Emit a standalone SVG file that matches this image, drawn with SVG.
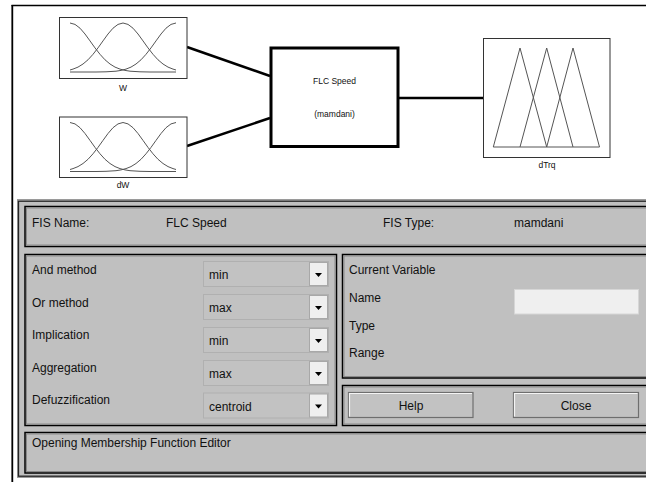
<svg xmlns="http://www.w3.org/2000/svg" xmlns:xlink="http://www.w3.org/1999/xlink" width="646" height="482" viewBox="0 0 646 482">
<style>
  text { font-family: "Liberation Sans", Arial, sans-serif; fill: #111; }
  .ui { font-size: 12px; }
  .small { font-size: 8.5px; }
  .mf { fill: none; stroke: #555; stroke-width: 1; }
  .box { fill: #fff; stroke: #333; stroke-width: 1; }
  .frame { fill: #c0c0c0; stroke: #000; stroke-width: 1.5; }
  .frame-in { fill: none; stroke: #8a8a8a; stroke-width: 1; }
  .dd { fill: #c2c2c2; stroke: #b0b0b0; stroke-width: 1; }
  .ddbtn { fill: #efefef; stroke: #a8a8a8; stroke-width: 1; }
  .btn { fill: #c2c2c2; stroke: #6e6e6e; stroke-width: 1.2; }
  .conn { stroke: #000; stroke-width: 2.5; fill: none; }
</style>
<defs>
  <g id="gauss3">
    <polyline class="mf" points="70,23 75,24.4 80,28.2 85,34 90,40.9 95,47.9 100,54.3 105,59.8 110,64 115,67.1 120,69.1 125,70.4 130,71.2 140,71.8 150,72 176,72"/>
    <polyline class="mf" points="70,70 73,69.1 78,67.1 83,64 88,59.8 93,54.3 98,47.9 103,40.9 108,34 113,28.2 118,24.4 123,23 128,24.4 133,28.2 138,34 143,40.9 148,47.9 153,54.3 158,59.8 163,64 168,67.1 173,69.1 176,70"/>
    <polyline class="mf" points="176,23 171,24.4 166,28.2 161,34 156,40.9 151,47.9 146,54.3 141,59.8 136,64 131,67.1 126,69.1 121,70.4 116,71.2 106,71.8 96,72 70,72"/>
  </g>
  <path id="ddarrow" d="M-3.5,-1.5 L3.5,-1.5 L0,2.5 Z" fill="#000"/>
</defs>

<rect x="0" y="0" width="646" height="482" fill="#fff"/>

<!-- outer frame -->
<line x1="11.5" y1="5.5" x2="646" y2="5.5" stroke="#000" stroke-width="1.6"/>
<line x1="12.3" y1="5" x2="12.3" y2="482" stroke="#000" stroke-width="1.8"/>

<!-- connectors -->
<g id="connectors">
  <line class="conn" x1="187" y1="47" x2="270" y2="76"/>
  <line class="conn" x1="187" y1="146" x2="270" y2="118"/>
  <line class="conn" x1="399" y1="98" x2="483" y2="98"/>
</g>

<g id="node-W">
  <rect class="box" x="59.5" y="17.5" width="127.5" height="61"/>
  <use xlink:href="#gauss3"/>
  <text class="small" x="123" y="91" text-anchor="middle">W</text>
</g>

<g id="node-dW">
  <rect class="box" x="59.5" y="117" width="127.5" height="60.5"/>
  <use xlink:href="#gauss3" transform="translate(0,99.5)"/>
  <text class="small" x="123" y="188" text-anchor="middle">dW</text>
</g>

<g id="node-FLC">
  <rect x="271" y="48" width="127" height="98.5" fill="#fff" stroke="#000" stroke-width="3"/>
  <text class="small" x="334.5" y="84" text-anchor="middle">FLC Speed</text>
  <text class="small" x="334.5" y="117" text-anchor="middle">(mamdani)</text>
</g>

<g id="node-dTrq">
  <rect class="box" x="483.5" y="38.5" width="126.5" height="119"/>
  <polyline class="mf" points="493.3,147 520,48 546.7,147"/>
  <polyline class="mf" points="520,147 546.7,48 573,147"/>
  <polyline class="mf" points="546.7,147 573,48 599.5,147"/>
  <line class="mf" x1="493.3" y1="147" x2="599.5" y2="147"/>
  <text class="small" x="547" y="168" text-anchor="middle">dTrq</text>
</g>

<!-- control panel -->
<g id="panel">
  <rect x="17.5" y="199.5" width="640" height="278" fill="#c0c0c0" stroke="#9a9a9a" stroke-width="1"/>
  <rect x="18.5" y="201.2" width="640" height="275" fill="none" stroke="#222" stroke-width="1.3"/>

  <!-- FIS name frame -->
  <rect class="frame" x="25" y="206.5" width="640" height="40"/>
  <rect class="frame-in" x="26.5" y="208" width="640" height="37"/>
  <text class="ui" x="32" y="227">FIS Name:</text>
  <text class="ui" x="166" y="227">FLC Speed</text>
  <text class="ui" x="383" y="227">FIS Type:</text>
  <text class="ui" x="514" y="227">mamdani</text>

  <!-- methods frame -->
  <rect class="frame" x="25" y="254.5" width="311.5" height="171"/>
  <rect class="frame-in" x="26.5" y="256" width="308.5" height="168"/>
  <text class="ui" x="32" y="274">And method</text>
  <text class="ui" x="32" y="306.5">Or method</text>
  <text class="ui" x="32" y="339">Implication</text>
  <text class="ui" x="32" y="371.5">Aggregation</text>
  <text class="ui" x="32" y="404">Defuzzification</text>

  <g id="dd1">
    <rect class="dd" x="203.5" y="261.5" width="125" height="25"/>
    <rect class="ddbtn" x="309.5" y="262.5" width="18" height="23"/>
    <use xlink:href="#ddarrow" x="318.5" y="274.5"/>
    <text class="ui" x="209" y="279">min</text>
  </g>
  <g id="dd2">
    <rect class="dd" x="203.5" y="294.5" width="125" height="25"/>
    <rect class="ddbtn" x="309.5" y="295.5" width="18" height="23"/>
    <use xlink:href="#ddarrow" x="318.5" y="307.5"/>
    <text class="ui" x="209" y="312">max</text>
  </g>
  <g id="dd3">
    <rect class="dd" x="203.5" y="327.5" width="125" height="25"/>
    <rect class="ddbtn" x="309.5" y="328.5" width="18" height="23"/>
    <use xlink:href="#ddarrow" x="318.5" y="340.5"/>
    <text class="ui" x="209" y="345">min</text>
  </g>
  <g id="dd4">
    <rect class="dd" x="203.5" y="360.5" width="125" height="25"/>
    <rect class="ddbtn" x="309.5" y="361.5" width="18" height="23"/>
    <use xlink:href="#ddarrow" x="318.5" y="373.5"/>
    <text class="ui" x="209" y="378">max</text>
  </g>
  <g id="dd5">
    <rect class="dd" x="203.5" y="393" width="125" height="25"/>
    <rect class="ddbtn" x="309.5" y="394" width="18" height="23"/>
    <use xlink:href="#ddarrow" x="318.5" y="406"/>
    <text class="ui" x="209" y="411">centroid</text>
  </g>

  <!-- current variable frame -->
  <rect class="frame" x="342.5" y="254.5" width="320" height="123.5"/>
  <rect class="frame-in" x="344" y="256" width="320" height="120.5"/>
  <text class="ui" x="349" y="274">Current Variable</text>
  <text class="ui" x="349" y="302">Name</text>
  <text class="ui" x="349" y="329.5">Type</text>
  <text class="ui" x="349" y="357">Range</text>
  <rect x="514.5" y="289.5" width="124" height="24.5" fill="#efefef" stroke="#d6d6d6" stroke-width="1"/>

  <!-- buttons frame -->
  <rect class="frame" x="342.5" y="385.5" width="320" height="40"/>
  <rect class="frame-in" x="344" y="387" width="320" height="37"/>
  <g id="btn-help">
    <rect class="btn" x="348.5" y="392.5" width="124.5" height="25"/>
    <polyline points="349.5,416.5 349.5,393.5 472,393.5" fill="none" stroke="#f4f4f4" stroke-width="1.2"/>
    <text class="ui" x="411" y="410" text-anchor="middle">Help</text>
  </g>
  <g id="btn-close">
    <rect class="btn" x="513.5" y="392.5" width="125" height="25"/>
    <polyline points="514.5,416.5 514.5,393.5 637.5,393.5" fill="none" stroke="#f4f4f4" stroke-width="1.2"/>
    <text class="ui" x="576" y="410" text-anchor="middle">Close</text>
  </g>

  <!-- status frame -->
  <rect class="frame" x="25" y="432.5" width="640" height="40.5"/>
  <rect class="frame-in" x="26.5" y="434" width="640" height="37.5"/>
  <text class="ui" x="32" y="446.5">Opening Membership Function Editor</text>
</g>
</svg>
